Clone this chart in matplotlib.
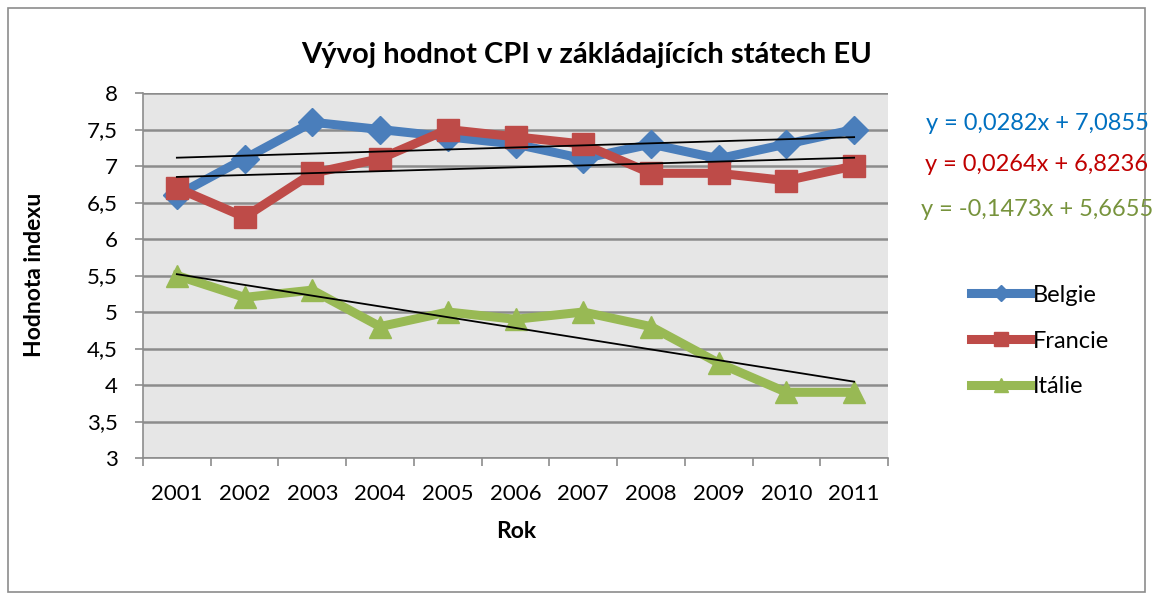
import numpy as np
import matplotlib
matplotlib.use("Agg")
import matplotlib.pyplot as plt
from matplotlib.patches import Rectangle

years = ["2001", "2002", "2003", "2004", "2005", "2006", "2007", "2008", "2009", "2010", "2011"]
belgie = [6.6, 7.1, 7.6, 7.5, 7.4, 7.3, 7.1, 7.3, 7.1, 7.3, 7.5]
francie = [6.7, 6.3, 6.9, 7.1, 7.5, 7.4, 7.3, 6.9, 6.9, 6.8, 7.0]
italie = [5.5, 5.2, 5.3, 4.8, 5.0, 4.9, 5.0, 4.8, 4.3, 3.9, 3.9]
series_names = ["Belgie", "Francie", "Itálie"]
eq_texts = ["y = 0,0282x + 7,0855", "y = 0,0264x + 6,8236", "y = -0,1473x + 5,6655"]
yticks = [3, 3.5, 4, 4.5, 5, 5.5, 6, 6.5, 7, 7.5, 8]

plt.rcParams['font.family'] = ['Lato', 'DejaVu Sans']

W, H = 1153, 598
fig = plt.figure(figsize=(W / 100, H / 100), dpi=100)
fig.patch.set_facecolor('white')
fig.patches.append(Rectangle((8 / W, 1 - 592 / H), (1145 - 8) / W, (592 - 8) / H,
                             transform=fig.transFigure, fill=False,
                             edgecolor='#8c8c8c', linewidth=1.2))

ax = fig.add_axes([143 / W, 1 - 458 / H, (888 - 143) / W, (458 - 93) / H])
ax.set_facecolor('#E6E6E6')

x = np.arange(1, len(years) + 1)
colors = ['#4A7EBB', '#BE4B48', '#98B954']
markers = ['D', 's', '^']
msizes = [14, 16, 16]
data = [belgie, francie, italie]
handles = []
for vals, c, m, ms, name in zip(data, colors, markers, msizes, series_names):
    h, = ax.plot(x, vals, color=c, marker=m, markersize=ms, linewidth=6.5,
                 markeredgecolor=c, label=name, zorder=3, solid_joinstyle='round')
    handles.append(h)
for vals in data:
    k, q = np.polyfit(x, vals, 1)
    ax.plot([x[0], x[-1]], [k * x[0] + q, k * x[-1] + q], color='black', linewidth=1.3, zorder=4)

ax.set_xlim(0.5, len(years) + 0.5)
ax.set_ylim(3, 8)
ax.set_yticks(yticks)
ax.set_yticklabels([f"{v:g}".replace('.', ',') for v in yticks], fontsize=16)
ax.yaxis.grid(True, color='#8c8c8c', linewidth=1.8)
ax.set_axisbelow(True)
ax.set_xticks(x)
ax.set_xticklabels(years, fontsize=16)
ax.set_xticks(np.arange(0.5, len(years) + 1, 1), minor=True)
ax.tick_params(axis='x', which='major', length=0, pad=19)
ax.tick_params(axis='x', which='minor', length=6, color='#8c8c8c', width=1.2)
ax.tick_params(axis='y', length=6, color='#8c8c8c', width=1.2, pad=12)
for s in ['top', 'right']:
    ax.spines[s].set_visible(False)
ax.spines['left'].set_color('#8c8c8c')
ax.spines['bottom'].set_color('#8c8c8c')
ax.spines['left'].set_linewidth(1.2)
ax.spines['bottom'].set_linewidth(1.2)

fig.text(516 / W, 1 - 532 / H, "Rok", fontsize=16.5, fontweight='bold', ha='center', va='center')
fig.text(35 / W, 1 - 275 / H, "Hodnota indexu", fontsize=16.5, fontweight='bold',
         ha='center', va='center', rotation=90)
fig.text(587 / W, 1 - 55 / H, "Vývoj hodnot CPI v zákládajících státech EU",
         ha='center', va='center', fontsize=21, fontweight='bold')

eq_colors = ['#0070C0', '#C00000', '#77933C']
eq_y = [123, 165, 209]
for t, c, yy in zip(eq_texts, eq_colors, eq_y):
    fig.text(1037 / W, 1 - yy / H, t, color=c, fontsize=17, ha='center', va='center')

fig.legend(handles=handles, labels=series_names, loc='center left',
           bbox_to_anchor=(950 / W, 1 - 341 / H), frameon=False, fontsize=17,
           handlelength=2.5, handletextpad=0.1, labelspacing=1.05, markerscale=0.6)

fig.savefig("out.png", dpi=100)
